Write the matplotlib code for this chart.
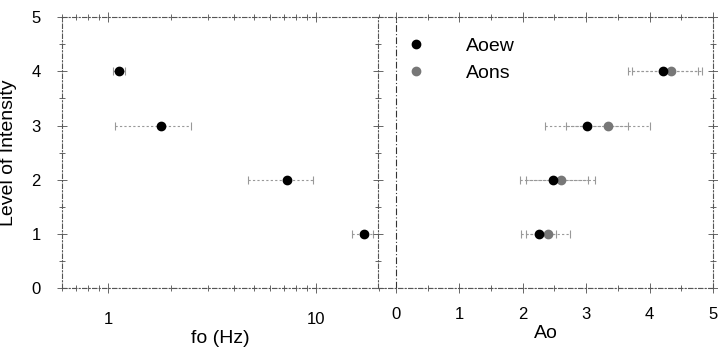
import matplotlib.pyplot as plt
from matplotlib.ticker import LogLocator, NullFormatter, FixedLocator

plt.rcParams['font.family'] = ['Liberation Sans', 'DejaVu Sans']

levels = [4, 3, 2, 1]

# left panel: fo (Hz)
fo = [1.13, 1.79, 7.19, 16.9]
fo_lo = [1.06, 1.08, 4.70, 14.8]
fo_hi = [1.20, 2.51, 9.62, 18.7]

# right panel: Ao
aoew = [4.21, 3.01, 2.48, 2.26]
aoew_lo = [3.66, 2.35, 1.96, 1.98]
aoew_hi = [4.77, 3.66, 3.03, 2.52]
aons = [4.34, 3.34, 2.60, 2.40]
aons_lo = [3.72, 2.68, 2.06, 2.06]
aons_hi = [4.82, 4.00, 3.14, 2.74]

fig = plt.figure(figsize=(7.18, 3.57), dpi=100)
ax1 = fig.add_axes([0.0864, 0.193, 0.4415, 0.759])
ax2 = fig.add_axes([0.5265, 0.193, 0.4665, 0.759])

for ax in (ax1, ax2):
    for s in ax.spines.values():
        s.set_linestyle((0, (4, 2, 1, 2)))
        s.set_linewidth(0.8)
        s.set_color('#555555')
    ax.set_ylim(0, 5)
    ax.tick_params(which='both', direction='inout', color='#666666', width=0.7)
    ax.tick_params(which='major', length=7, labelsize=12)
    ax.tick_params(which='minor', length=4)
    ax.yaxis.set_major_locator(FixedLocator([0, 1, 2, 3, 4, 5]))
    ax.yaxis.set_minor_locator(FixedLocator([0.5, 1.5, 2.5, 3.5, 4.5]))
    ax.axhline(0, color='#555555', lw=0.8, ls=(0, (4, 2, 1, 2)))

def err(ax, x, lo, hi, y):
    eb = ax.errorbar(x, y, xerr=[[a - b for a, b in zip(x, lo)], [c - a for a, c in zip(x, hi)]],
                     fmt='none', ecolor='#999999', elinewidth=0.8, capsize=3, capthick=0.8)
    for c in eb[2]:
        c.set_linestyle((0, (2, 2)))

# left
ax1.set_xscale('log')
ax1.set_xlim(0.6, 20)
err(ax1, fo, fo_lo, fo_hi, levels)
ax1.plot(fo, levels, 'o', color='black', ms=6)
ax1.xaxis.set_minor_locator(LogLocator(base=10, subs=range(2, 10), numticks=20))
ax1.xaxis.set_minor_formatter(NullFormatter())
ax1.set_xticks([1, 10])
ax1.set_xticklabels(['1', '10'])
ax1.tick_params(axis='x', pad=14)
ax1.set_xlabel('fo (Hz)', fontsize=14, labelpad=2)
ax1.set_ylabel('Level of Intensity', fontsize=14, labelpad=10)
ax1.tick_params(axis='y', pad=12)
ax1.tick_params(top=True, right=True, which='both')

# right
ax2.set_xlim(-0.28, 5)
err(ax2, aoew, aoew_lo, aoew_hi, levels)
err(ax2, aons, aons_lo, aons_hi, levels)
ax2.plot(aons, levels, 'o', color='#777777', ms=6, label='Aons', zorder=3)
ax2.plot(aoew, levels, 'o', color='black', ms=6, label='Aoew', zorder=4)
ax2.axvline(0, color='#333333', lw=0.8, ls=(0, (6, 2, 1, 2)))
ax2.xaxis.set_major_locator(FixedLocator([0, 1, 2, 3, 4, 5]))
ax2.xaxis.set_minor_locator(FixedLocator([0.5, 1.5, 2.5, 3.5, 4.5]))
ax2.tick_params(axis='x', pad=10)
ax2.tick_params(axis='y', labelleft=False)
ax2.tick_params(top=True, right=True, which='both')
ax2.set_xlabel('Ao', fontsize=14, labelpad=2)
h, l = ax2.get_legend_handles_labels()
ax2.legend(h[::-1], l[::-1], loc='upper left', frameon=False, fontsize=14,
           handletextpad=1.6, labelspacing=0.5, borderaxespad=0.2,
           bbox_to_anchor=(0.02, 0.97))

fig.savefig('out.png', dpi=100)
